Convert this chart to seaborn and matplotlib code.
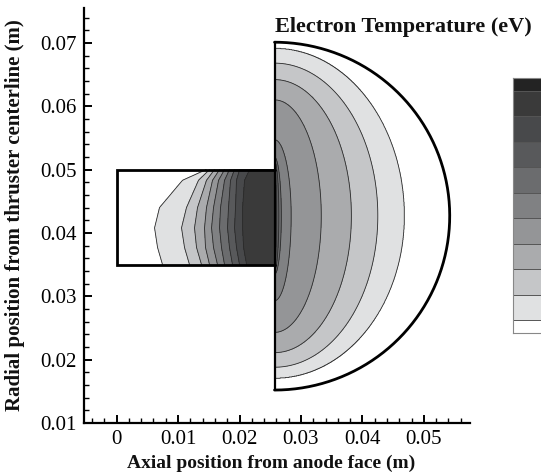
import numpy as np
import matplotlib
matplotlib.use("Agg")
import matplotlib.pyplot as plt
import seaborn as sns
from matplotlib.path import Path
from matplotlib.patches import PathPatch
from matplotlib.colors import ListedColormap, BoundaryNorm
from matplotlib.ticker import FixedLocator, FixedFormatter, MultipleLocator

# ---------------- data ----------------
band_colors = ['#ffffff', '#e0e1e2', '#c5c6c8', '#aaabad', '#949597', '#808183',
               '#6b6c6e', '#58595b', '#48494b', '#3a3a3a', '#232323']
contour_levels = [1, 2, 3, 4, 5, 6, 7, 8, 9]
fill_levels = [-1, 1, 2, 3, 4, 5, 6, 7, 8, 9, 10, 11]

channel_x = [0.0, 0.0257]
channel_y = [0.035, 0.050]
plume_center_y = 0.0427
plume_a = 0.0285
plume_b_up = 0.0274
plume_b_down = 0.0275

# contour x-positions inside the channel at several radial stations
chan_sample_y = [0.0350, 0.0377, 0.0408, 0.0440, 0.0483, 0.0500]
chan_lvl1_x = [0.00748, 0.00667, 0.00618, 0.00699, 0.01073, 0.01463]
chan_lvl2_x = [0.01187, 0.01106, 0.01057, 0.01138, 0.01333, 0.01512]
chan_lvl3_x = [0.01382, 0.01301, 0.01268, 0.01317, 0.01463, 0.01593]
chan_lvl4_x = [0.01512, 0.01447, 0.01431, 0.01463, 0.01561, 0.01675]
chan_lvl5_x = [0.01642, 0.01577, 0.01545, 0.01577, 0.01659, 0.01756]
chan_lvl6_x = [0.01756, 0.01707, 0.01675, 0.01691, 0.01756, 0.01837]
chan_lvl7_x = [0.01886, 0.01837, 0.01805, 0.01821, 0.01854, 0.01919]
chan_lvl8_x = [0.02000, 0.01951, 0.01919, 0.01935, 0.01951, 0.02000]
chan_lvl9_x = [0.02114, 0.02065, 0.02049, 0.02049, 0.02081, 0.02163]
channel_edge_value = [0.0, 9.5]

# plume contours: semi-axes (axial, radial up, radial down) for levels 1..9
plume_lvl_a = [0.0211, 0.0168, 0.0125, 0.0076, 0.0027, 0.0011, 0.0007, 0.0003, 0.0001]
plume_lvl_b_up = [0.0264, 0.0241, 0.0215, 0.0183, 0.0120, 0.0092, 0.0086, 0.0081, 0.0077]
plume_lvl_b_down = [0.0256, 0.0239, 0.0216, 0.0184, 0.0134, 0.0092, 0.0086, 0.0081, 0.0077]
plume_exit_value = 9.5

x_ticks = [0.0, 0.01, 0.02, 0.03, 0.04, 0.05]
x_tick_labels = ['0', '0.01', '0.02', '0.03', '0.04', '0.05']
y_ticks = [0.01, 0.02, 0.03, 0.04, 0.05, 0.06, 0.07]
y_tick_labels = ['0.01', '0.02', '0.03', '0.04', '0.05', '0.06', '0.07']

# ---------------- style ----------------
sns.set_theme(style="ticks")
plt.rcParams['font.family'] = ['Liberation Serif', 'DejaVu Serif']
plt.rcParams['axes.linewidth'] = 1.6

cmap = ListedColormap(band_colors)
norm = BoundaryNorm(fill_levels, cmap.N)

fig = plt.figure(figsize=(5.41, 4.75), dpi=100)
fig.patch.set_facecolor('white')
ax = fig.add_axes([84 / 541, 1 - 423 / 475, (470 - 84) / 541, (423 - 8) / 475])
ax.set_facecolor('white')

# ---------------- channel field ----------------
xc = np.linspace(channel_x[0], channel_x[1], 600)
yc = np.linspace(channel_y[0], channel_y[1], 300)
Xc, Yc = np.meshgrid(xc, yc)
Tc = np.empty_like(Xc)
chan_lvls = [chan_lvl1_x, chan_lvl2_x, chan_lvl3_x, chan_lvl4_x, chan_lvl5_x,
             chan_lvl6_x, chan_lvl7_x, chan_lvl8_x, chan_lvl9_x]
for j, yv in enumerate(yc):
    xs = [np.interp(yv, chan_sample_y, c) for c in chan_lvls]
    xp = [channel_x[0]] + xs + [channel_x[1]]
    fp = [channel_edge_value[0]] + contour_levels + [channel_edge_value[1]]
    Tc[j] = np.interp(xc, xp, fp)

ax.contourf(Xc, Yc, Tc, levels=fill_levels, cmap=cmap, norm=norm)
ax.contour(Xc, Yc, Tc, levels=contour_levels, colors='#2a2a2a', linewidths=0.6)

# ---------------- plume field ----------------
exit_x = channel_x[1]
u = np.linspace(0, 1, 1000) ** 1.6
xpl = exit_x + plume_a * u
ypl = np.linspace(plume_center_y - plume_b_down, plume_center_y + plume_b_up, 800)
Xp, Yp = np.meshgrid(xpl, ypl)
DX = Xp - exit_x
DY = Yp - plume_center_y
rho = np.hypot(DX, DY)
rs = np.where(rho == 0, 1e-12, rho)
cs_, sn_ = DX / rs, DY / rs
R_list = [np.zeros_like(rho)]
f_list = [plume_exit_value]
for k in range(len(contour_levels) - 1, -1, -1):
    b = np.where(DY >= 0, plume_lvl_b_up[k], plume_lvl_b_down[k])
    R_list.append(1.0 / np.sqrt((cs_ / plume_lvl_a[k]) ** 2 + (sn_ / b) ** 2))
    f_list.append(contour_levels[k])
R_list.append(np.full_like(rho, 1.0))
f_list.append(0.0)
Tp = np.zeros_like(rho)
for i in range(len(R_list) - 1):
    r0, r1 = R_list[i], R_list[i + 1]
    m = (rho >= r0) & (rho < r1)
    Tp = np.where(m, f_list[i] + (rho - r0) / (r1 - r0 + 1e-15) * (f_list[i + 1] - f_list[i]), Tp)

th = np.linspace(np.pi / 2, -np.pi / 2, 400)
ell_x = exit_x + plume_a * np.cos(th)
ell_y = plume_center_y + np.where(np.sin(th) >= 0, plume_b_up, plume_b_down) * np.sin(th)
plume_path = Path(np.column_stack([np.r_[exit_x, ell_x, exit_x], np.r_[plume_center_y, ell_y, plume_center_y]]))
clip = PathPatch(plume_path, transform=ax.transData, facecolor='none', edgecolor='none')
ax.add_patch(clip)

cf = ax.contourf(Xp, Yp, Tp, levels=fill_levels, cmap=cmap, norm=norm)
cf.set_clip_path(clip)
cl = ax.contour(Xp, Yp, Tp, levels=contour_levels, colors='#2a2a2a', linewidths=0.6)
cl.set_clip_path(clip)

# ---------------- outlines ----------------
ax.plot([exit_x, channel_x[0], channel_x[0], exit_x],
        [channel_y[0], channel_y[0], channel_y[1], channel_y[1]], color='black', lw=2.0,
        solid_joinstyle='miter')
ax.plot(np.r_[exit_x, ell_x, exit_x], np.r_[ell_y[0], ell_y, ell_y[-1]], color='black', lw=2.0)
ax.plot([exit_x, exit_x], [ell_y[-1], ell_y[0]], color='black', lw=1.6)

# ---------------- axes ----------------
ax.set_xlim(-0.0053, 0.0575)
ax.set_ylim(0.01, 0.0755)
ax.xaxis.set_major_locator(FixedLocator(x_ticks))
ax.xaxis.set_major_formatter(FixedFormatter(x_tick_labels))
ax.yaxis.set_major_locator(FixedLocator(y_ticks))
ax.yaxis.set_major_formatter(FixedFormatter(y_tick_labels))
ax.xaxis.set_minor_locator(MultipleLocator(0.002))
ax.yaxis.set_minor_locator(MultipleLocator(0.002))
ax.tick_params(which='major', direction='in', length=6, width=1.4, labelsize=15, pad=5, colors='black')
ax.tick_params(which='minor', direction='in', length=3.5, width=1.0, colors='black')
for s in ['top', 'right']:
    ax.spines[s].set_visible(False)
for s in ['left', 'bottom']:
    ax.spines[s].set_color('black')
ax.grid(False)

fig.text(271 / 541, 1 - 463 / 475, 'Axial position from anode face (m)', ha='center', va='center',
         fontsize=14, fontweight='bold', color='#111111')
fig.text(15 / 541, 1 - 215 / 475, 'Radial position from thruster centerline (m)', ha='center', va='center',
         rotation=90, fontsize=15, fontweight='bold', color='#111111')
fig.text(275 / 541, 1 - 27 / 475, 'Electron Temperature (eV)', ha='left', va='center',
         fontsize=16, fontweight='bold', color='#111111')

# ---------------- legend strip (cropped at right edge) ----------------
cax = fig.add_axes([513 / 541, 1 - 333 / 475, 0.08, 255 / 475])
bounds = [0, 0.5, 1.5, 2.5, 3.5, 4.5, 5.5, 6.5, 7.5, 8.5, 9.5, 10]
vals = np.arange(len(band_colors)).reshape(-1, 1)
cax.pcolormesh([0, 1], bounds, vals, cmap=cmap, norm=BoundaryNorm(np.arange(-0.5, 11.5, 1), cmap.N))
cax.hlines(bounds[1:-1], 0, 1, color='#555555', lw=0.7)
cax.set_xlim(0, 1)
cax.set_ylim(0, 10)
cax.set_xticks([])
cax.set_yticks([])
for s in cax.spines.values():
    s.set_color('#888888')
    s.set_linewidth(0.8)

fig.savefig('out.png', dpi=100, facecolor='white')
